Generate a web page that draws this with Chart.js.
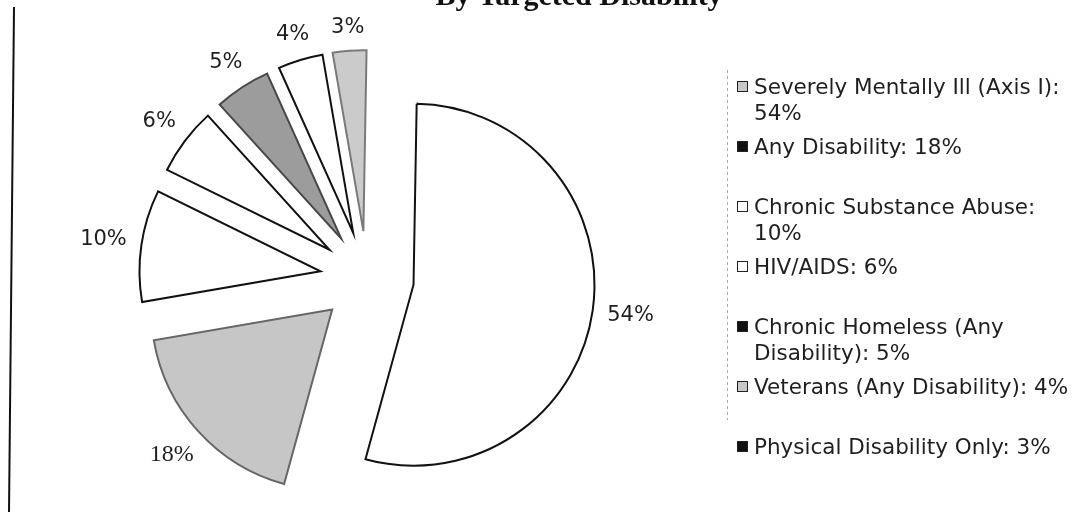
<!DOCTYPE html>
<html>
<head>
<meta charset="utf-8">
<script src="https://cdn.jsdelivr.net/npm/chart.js@4.4.1/dist/chart.umd.min.js"></script>
<style>
  html, body { margin: 0; padding: 0; background: #fff; }
  #wrap { position: relative; width: 1080px; height: 514px; overflow: hidden; }
  #chart { position: absolute; left: 0; top: 0; }
  #legend { position: absolute; left: 737px; top: 74px; font: 21.5px "DejaVu Sans", Verdana, sans-serif; color: #1f1f1f; }
  .item { display: flex; align-items: flex-start; height: 60px; }
  .box { flex: none; width: 9px; height: 9px; margin: 7px 6px 0 0; border: 1.5px solid #222; }
  .txt { width: 328px; line-height: 26px; }
</style>
</head>
<body>
<div id="wrap">
  <canvas id="chart" width="1080" height="514"></canvas>
  <div id="legend"></div>
</div>
<script>
// Pie by targeted disability (scanned report page)
const categories = [
  'Severely Mentally Ill (Axis I)',
  'Any Disability',
  'Chronic Substance Abuse',
  'HIV/AIDS',
  'Chronic Homeless (Any Disability)',
  'Veterans (Any Disability)',
  'Physical Disability Only'
];
const shares = [54, 18, 10, 6, 5, 4, 3];

const sliceFills = ['#ffffff', '#c6c6c6', '#ffffff', '#ffffff', '#9c9c9c', '#ffffff', '#cbcbcb'];
const sliceBorders = ['#111111', '#666666', '#111111', '#111111', '#474747', '#111111', '#7a7a7a'];
const legendFills = ['#c8c8c8', '#111111', '#ffffff', '#ffffff', '#111111', '#c8c8c8', '#111111'];
const labelFonts = ['21px "DejaVu Sans"', '24px "Liberation Serif"', '21px "DejaVu Sans"', '21px "DejaVu Sans"',
  '21px "DejaVu Sans"', '21px "DejaVu Sans"', '21px "DejaVu Sans"'];

const EXPLODE = 47;   // px each slice is pulled out from the centre
const LABEL_GAP = 14;

// draw every arc shifted outwards along its mid angle
const explodePlugin = {
  id: 'explode',
  beforeDatasetDraw(chart, args) {
    const ctx = chart.ctx;
    args.meta.data.forEach(arc => {
      const mid = (arc.startAngle + arc.endAngle) / 2;
      ctx.save();
      ctx.translate(Math.cos(mid) * EXPLODE, Math.sin(mid) * EXPLODE);
      arc.draw(ctx);
      ctx.restore();
    });
    return false;
  }
};

// percentage labels outside each slice
const labelPlugin = {
  id: 'pctLabels',
  afterDatasetsDraw(chart) {
    const ctx = chart.ctx;
    const meta = chart.getDatasetMeta(0);
    ctx.save();
    ctx.fillStyle = '#1f1f1f';
    ctx.textAlign = 'center';
    ctx.textBaseline = 'middle';
    meta.data.forEach((arc, i) => {
      const mid = (arc.startAngle + arc.endAngle) / 2;
      const dx = Math.cos(mid), dy = Math.sin(mid);
      const text = shares[i] + '%';
      ctx.font = labelFonts[i];
      const hw = ctx.measureText(text).width / 2;
      const dist = EXPLODE + arc.outerRadius + LABEL_GAP + Math.abs(dx) * hw + Math.abs(dy) * 8;
      ctx.fillText(text, arc.x + dx * dist, arc.y + dy * dist);
    });
    ctx.restore();
  }
};

// page bits: cut-off title, left frame line, legend border
const decorPlugin = {
  id: 'decor',
  afterDraw(chart) {
    const ctx = chart.ctx;
    ctx.save();
    ctx.fillStyle = '#111';
    ctx.font = 'bold 30px "Liberation Serif", serif';
    ctx.textAlign = 'center';
    ctx.textBaseline = 'alphabetic';
    ctx.fillText('By Targeted Disability', 579, 5);

    ctx.strokeStyle = '#111';
    ctx.lineWidth = 2;
    ctx.beginPath();
    ctx.moveTo(14, 7);
    ctx.lineTo(9, 512);
    ctx.stroke();

    ctx.strokeStyle = '#aaa';
    ctx.lineWidth = 1;
    ctx.setLineDash([3, 3]);
    ctx.beginPath();
    ctx.moveTo(727.5, 70);
    ctx.lineTo(727.5, 420);
    ctx.stroke();
    ctx.restore();
  }
};

const ctx = document.getElementById('chart').getContext('2d');
new Chart(ctx, {
  type: 'pie',
  data: {
    labels: categories,
    datasets: [{
      data: shares,
      backgroundColor: sliceFills,
      borderColor: sliceBorders,
      borderWidth: 2,
      borderJoinStyle: 'miter',
      offset: 0,
      hoverOffset: 0
    }]
  },
  options: {
    responsive: false,
    animation: false,
    rotation: 1,
    radius: 181,
    layout: { padding: { left: 0, right: 346, top: 42, bottom: 0 } },
    plugins: {
      legend: { display: false },
      tooltip: { enabled: false }
    }
  },
  plugins: [explodePlugin, labelPlugin, decorPlugin]
});

// legend built from the same arrays
const legendEl = document.getElementById('legend');
categories.forEach((name, i) => {
  const item = document.createElement('div');
  item.className = 'item';
  const box = document.createElement('span');
  box.className = 'box';
  box.style.background = legendFills[i];
  const txt = document.createElement('div');
  txt.className = 'txt';
  txt.textContent = name + ': ' + shares[i] + '%';
  item.appendChild(box);
  item.appendChild(txt);
  legendEl.appendChild(item);
});
</script>
</body>
</html>
